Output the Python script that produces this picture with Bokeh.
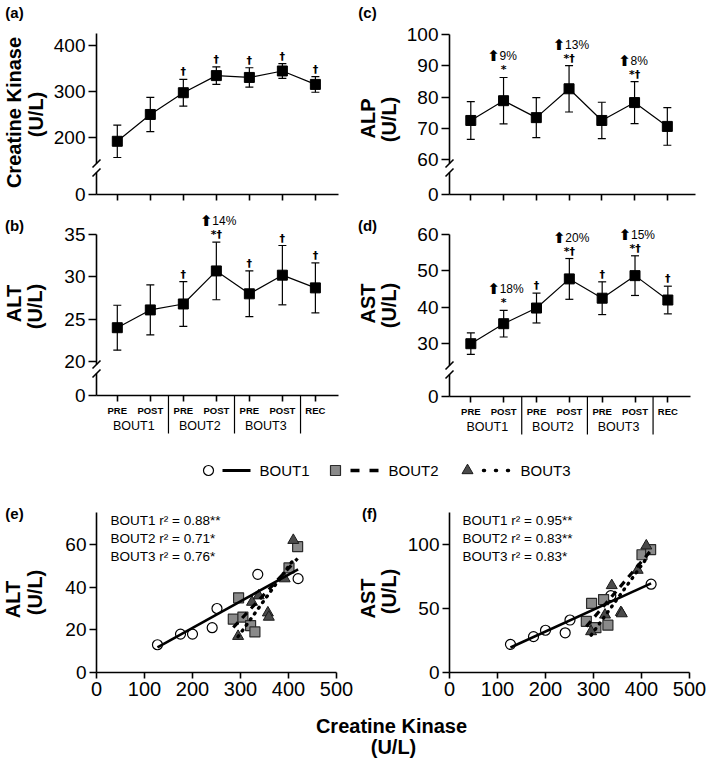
import numpy as np
from bokeh.plotting import figure
from bokeh.layouts import column, row
from bokeh.models import Range1d, FixedTicker, ColumnDataSource, Label, LabelSet
from bokeh.embed import file_html
from bokeh.resources import INLINE
from bokeh.core.properties import value

FONT = "Liberation Sans"

# ---------------- data ----------------
timepoints = ["PRE1", "POST1", "PRE2", "POST2", "PRE3", "POST3", "REC"]
tick_labels = ["PRE", "POST", "PRE", "POST", "PRE", "POST", "REC"]
bout_names = ["BOUT1", "BOUT2", "BOUT3"]
bout_members = [["PRE1", "POST1"], ["PRE2", "POST2"], ["PRE3", "POST3"]]

ck_mean = [192, 250, 297, 334, 330, 344, 315]
ck_err = [35, 37, 29, 19, 21, 16, 17]
ck_mark = ["", "", "†", "†", "†", "†", "†"]
ck_pct = ["", "", "", "", "", "", ""]

alp_mean = [72.6, 78.9, 73.5, 82.7, 72.6, 78.3, 70.7]
alp_err = [6.0, 7.4, 6.4, 7.4, 5.8, 6.7, 6.0]
alp_mark = ["", "*", "", "*†", "", "*†", ""]
alp_pct = ["", "9%", "", "13%", "", "8%", ""]

alt_mean = [24.0, 26.1, 26.8, 30.7, 28.0, 30.2, 28.7]
alt_err = [2.65, 2.95, 2.65, 3.4, 2.7, 3.5, 2.95]
alt_mark = ["", "", "†", "*†", "†", "†", "†"]
alt_pct = ["", "", "", "14%", "", "", ""]

ast_mean = [30.0, 35.5, 39.8, 47.8, 42.5, 48.7, 42.0]
ast_err = [2.95, 3.65, 4.1, 5.6, 4.5, 5.45, 3.8]
ast_mark = ["", "*", "†", "*†", "†", "*†", "†"]
ast_pct = ["", "18%", "", "20%", "", "15%", ""]

# correlations (creatine kinase vs ALT / AST)
b1_ck = [127, 175, 200, 241, 251, 336, 420]
b1_alt = [13, 18, 18, 21, 30, 46, 44]
b1_ast = [22, 28, 33, 31, 41, 60, 69]
b2_ck = [296, 285, 305, 321, 330, 401, 419]
b2_alt = [35, 25, 26, 22, 19, 49, 59]
b2_ast = [54, 40, 35, 57, 37, 92, 96]
b3_ck = [295, 324, 338, 357, 359, 392, 410]
b3_alt = [17, 33, 36, 28, 26, 44, 62]
b3_ast = [32, 45, 68, 47, 46, 80, 99]

alt_r2 = ["BOUT1 r² = 0.88**", "BOUT2 r² = 0.71*", "BOUT3 r² = 0.76*"]
ast_r2 = ["BOUT1 r² = 0.95**", "BOUT2 r² = 0.83**", "BOUT3 r² = 0.83*"]


# ---------------- helpers ----------------
def add_label(p, x, y, text, size, bold=False, angle=0.0, align="center", baseline="middle"):
    p.add_layout(Label(x=x, y=y, text=text, text_font=FONT, text_font_size=size,
                       text_font_style="bold" if bold else "normal", angle=angle,
                       text_align=align, text_baseline=baseline, text_color="black"))


def base_fig(geom, xr, yr):
    """Figure whose frame fills its whole area; axes sit at fixed data locations."""
    fx, fy, fw, fh, L, R, T, B = geom
    sx = (xr[1] - xr[0]) / (R - L)
    sy = (yr[1] - yr[0]) / (B - T)

    def px2x(px):
        return xr[0] + (px - L) * sx

    def py2y(py):
        return yr[1] - (py - T) * sy

    p = figure(width=fw, height=fh,
               x_range=Range1d(px2x(fx), px2x(fx + fw)),
               y_range=Range1d(py2y(fy + fh), py2y(fy)),
               min_border=0, toolbar_location=None, output_backend="svg")
    p.outline_line_color = None
    p.grid.visible = False
    xa, ya = p.xaxis[0], p.yaxis[0]
    xa.fixed_location = yr[0]
    xa.bounds = (xr[0], xr[1])
    ya.fixed_location = xr[0]
    ya.bounds = (yr[0], yr[1])
    for ax in (xa, ya):
        ax.axis_line_width = 1.6
        ax.axis_line_color = "black"
        ax.major_tick_line_width = 1.6
        ax.major_tick_line_color = "black"
        ax.major_tick_in = 0
        ax.minor_tick_out = 0
        ax.minor_tick_in = 0
        ax.major_label_text_font = FONT
        ax.major_label_text_font_size = "19px"
        ax.major_label_text_color = "black"
    return p, px2x, py2y


def line_panel(geom, xr, yr, zero_at, yticks, mean, err, marks, pcts,
               ylabels, letter, show_x):
    fx, fy, fw, fh, L, R, T, B = geom
    p, px2x, py2y = base_fig(geom, xr, yr)
    xs = np.arange(1, len(timepoints) + 1)
    mean = np.array(mean, dtype=float)
    err = np.array(err, dtype=float)

    ya = p.yaxis[0]
    ya.ticker = FixedTicker(ticks=[zero_at] + yticks)
    ya.major_label_overrides = {zero_at: "0"}
    ya.axis_line_color = None
    ya.major_tick_out = 8
    ya.major_label_standoff = 3

    # y-axis line with a break
    yb_hi, yb_lo = B - 31, B - 22
    x0 = [xr[0], xr[0], px2x(L - 4), px2x(L - 4)]
    y0 = [yr[1], py2y(yb_lo), py2y(yb_hi + 4), py2y(yb_lo + 4)]
    x1 = [xr[0], xr[0], px2x(L + 4), px2x(L + 4)]
    y1 = [py2y(yb_hi), zero_at, py2y(yb_hi - 4), py2y(yb_lo - 4)]
    p.segment(x0=x0, y0=y0, x1=x1, y1=y1, line_color="black", line_width=1.6)

    xa = p.xaxis[0]
    xa.ticker = FixedTicker(ticks=[int(v) for v in xs])
    xa.major_tick_out = 6
    if show_x:
        xa.major_label_overrides = {int(i): t for i, t in zip(xs, tick_labels)}
        xa.major_label_text_font_size = "9.5px"
        xa.major_label_text_font_style = "bold"
        xa.major_label_standoff = 3
        seps = []
        for name, members in zip(bout_names, bout_members):
            idx = [timepoints.index(m) + 1 for m in members]
            add_label(p, float(np.mean(idx)), py2y(B + 30), name, "12.5px")
            seps.append(max(idx) + 0.55)
        p.segment(x0=seps, y0=[zero_at] * len(seps), x1=seps, y1=[py2y(B + 38)] * len(seps),
                  line_color="black", line_width=1.2)
    else:
        xa.major_label_overrides = {int(i): "" for i in xs}
        xa.major_label_text_font_size = "1px"
        xa.major_label_standoff = 0

    src = ColumnDataSource(dict(x=xs, m=mean, hi=mean + err, lo=mean - err,
                                mark=marks, pct=pcts,
                                arrow=["⬆" if s else "" for s in pcts]))
    p.segment(x0="x", y0="lo", x1="x", y1="hi", source=src, line_color="black", line_width=1.2)
    p.scatter("x", "hi", source=src, marker="dash", size=8, line_color="black", line_width=1.2)
    p.scatter("x", "lo", source=src, marker="dash", size=8, line_color="black", line_width=1.2)
    p.line("x", "m", source=src, line_color="black", line_width=1.2)
    p.scatter("x", "m", source=src, marker="square", size=10, fill_color="black", line_color="black")
    p.add_layout(LabelSet(x="x", y="hi", text="mark", source=src, y_offset=4,
                          text_align="center", text_baseline="alphabetic",
                          text_font=value("DejaVu Sans"), text_font_size="11px",
                          text_font_style="bold", text_color="black"))
    p.add_layout(LabelSet(x="x", y="hi", text="pct", source=src, y_offset=17, x_offset=-4,
                          text_align="left", text_baseline="alphabetic",
                          text_font=value(FONT), text_font_size="12px",
                          text_color="black"))
    p.add_layout(LabelSet(x="x", y="hi", text="arrow", source=src, y_offset=16, x_offset=-10,
                          text_align="center", text_baseline="alphabetic",
                          text_font=value("DejaVu Sans"), text_font_size="15px",
                          text_font_style="bold", text_color="black"))

    for text, px, py in ylabels:
        add_label(p, px2x(px), py2y(py), text, "20px", bold=True, angle=np.pi / 2)
    add_label(p, px2x(letter[1]), py2y(letter[2]), letter[0], "15px", bold=True)
    return p


def scatter_panel(geom, yr, yticks, ys, r2, ylabels, letter, r2_left):
    fx, fy, fw, fh, L, R, T, B = geom
    p, px2x, py2y = base_fig(geom, (0, 500), yr)
    p.xaxis[0].ticker = FixedTicker(ticks=[0, 100, 200, 300, 400, 500])
    p.xaxis[0].major_tick_out = 6
    p.xaxis[0].major_label_standoff = 3
    p.xaxis[0].major_label_text_font_size = "20px"
    p.yaxis[0].ticker = FixedTicker(ticks=yticks)
    p.yaxis[0].major_tick_out = 7
    p.yaxis[0].major_label_standoff = 3

    y1, y2, y3 = ys
    p.scatter(b1_ck, y1, marker="circle", size=10, fill_color="white", line_color="black", line_width=1.2)
    p.scatter(b2_ck, y2, marker="square", size=10, fill_color="#8a8a8a", line_color="#2b2b2b", line_width=1.2)
    p.scatter(b3_ck, y3, marker="triangle", size=11, fill_color="#4a4a4a", line_color="#1a1a1a", line_width=1.0)

    styles = [dict(line_dash="solid", line_width=2.6, line_cap="butt"),
              dict(line_dash="7 6", line_width=3.2, line_cap="butt"),
              dict(line_dash="1 6", line_width=3.4, line_cap="round")]
    for xv, yv, st in zip([b1_ck, b2_ck, b3_ck], ys, styles):
        k, c = np.polyfit(xv, yv, 1)
        xx = np.array([min(xv), max(xv)], dtype=float)
        p.line(xx, k * xx + c, line_color="black", **st)

    for i, t in enumerate(r2):
        add_label(p, px2x(r2_left), py2y(519.5 + 18 * i), t, "13.5px", align="left")
    for text, px, py in ylabels:
        add_label(p, px2x(px), py2y(py), text, "20px", bold=True, angle=np.pi / 2)
    add_label(p, px2x(letter[1]), py2y(letter[2]), letter[0], "15px", bold=True)
    return p


# ---------------- panels ----------------
pa = line_panel((0, 0, 355, 205, 96, 338, 33, 194), (0.37, 7.7), (77, 425), 77, [200, 300, 400],
                ck_mean, ck_err, ck_mark, ck_pct,
                [("Creatine Kinase", 13, 112), ("(U/L)", 35, 114)], ("(a)", 14, 12), False)
pc = line_panel((355, 0, 354, 205, 449, 695, 34, 194), (0.35, 7.86), (49, 100), 49, [60, 70, 80, 90, 100],
                alp_mean, alp_err, alp_mark, alp_pct,
                [("ALP", 367, 118), ("(U/L)", 388, 119)], ("(c)", 367, 12), False)
pb = line_panel((0, 205, 355, 245, 96, 338, 234, 395), (0.37, 7.7), (16, 35), 16, [20, 25, 30, 35],
                alt_mean, alt_err, alt_mark, alt_pct,
                [("ALT", 13, 303), ("(U/L)", 34, 306)], ("(b)", 14, 225), True)
pd_ = line_panel((355, 205, 354, 245, 449, 690, 234, 396), (0.35, 7.69), (15.5, 60), 15.5, [30, 40, 50, 60],
                 ast_mean, ast_err, ast_mark, ast_pct,
                 [("AST", 367, 303), ("(U/L)", 388, 305)], ("(d)", 367, 225), True)

pe = scatter_panel((0, 490, 355, 225, 96, 336, 512, 672), (0, 75), [0, 20, 40, 60],
                   (b1_alt, b2_alt, b3_alt), alt_r2,
                   [("ALT", 12, 599), ("(U/L)", 34, 592)], ("(e)", 14, 513), 110)
pf = scatter_panel((355, 490, 354, 225, 449, 689, 512, 672), (0, 125), [0, 50, 100],
                   (b1_ast, b2_ast, b3_ast), ast_r2,
                   [("AST", 367, 598), ("(U/L)", 388, 591)], ("(f)", 369, 513), 462)

# ---------------- legend strip ----------------
lg = figure(width=709, height=40, x_range=Range1d(0, 709), y_range=Range1d(490, 450),
            min_border=0, toolbar_location=None, output_backend="svg",
            x_axis_location=None, y_axis_location=None)
lg.outline_line_color = None
lg.grid.visible = False
lg.scatter([208], [470], marker="circle", size=10, fill_color="white", line_color="black", line_width=1.2)
lg.line([222, 250], [470, 470], line_color="black", line_width=3)
add_label(lg, 259, 470, bout_names[0], "15px", align="left")
lg.scatter([335], [470], marker="square", size=10, fill_color="#8a8a8a", line_color="#2b2b2b", line_width=1.2)
lg.line([350, 378], [470, 470], line_color="black", line_width=3.5, line_dash="9 10")
add_label(lg, 388, 470, bout_names[1], "15px", align="left")
lg.scatter([467], [470], marker="triangle", size=11, fill_color="#4a4a4a", line_color="#1a1a1a")
lg.line([483, 508], [470, 470], line_color="black", line_width=3.5, line_dash="1 11", line_cap="round")
add_label(lg, 520, 470, bout_names[2], "15px", align="left")

# ---------------- bottom x title ----------------
bt = figure(width=709, height=48, x_range=Range1d(0, 709), y_range=Range1d(763, 715),
            min_border=0, toolbar_location=None, output_backend="svg",
            x_axis_location=None, y_axis_location=None)
bt.outline_line_color = None
bt.grid.visible = False
add_label(bt, 391, 725, "Creatine Kinase", "20px", bold=True)
add_label(bt, 393, 746, "(U/L)", "20px", bold=True)

layout = column(row(pa, pc), row(pb, pd_), lg, row(pe, pf), bt)
open("out.html", "w").write(file_html(layout, INLINE))
